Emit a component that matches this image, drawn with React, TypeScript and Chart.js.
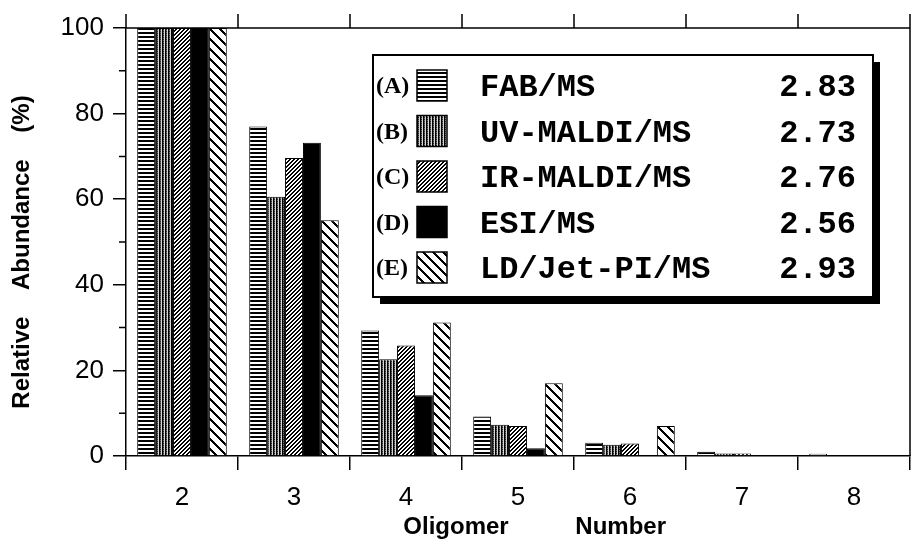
import React, { useEffect, useRef } from "react";
import { Chart, registerables } from "chart.js";

Chart.register(...registerables);

// ---- data ----
const oligomerNumbers = ["2", "3", "4", "5", "6", "7", "8"];
const methodTags = ["(A)", "(B)", "(C)", "(D)", "(E)"];
const methodNames = ["FAB/MS", "UV-MALDI/MS", "IR-MALDI/MS", "ESI/MS", "LD/Jet-PI/MS"];
const averageValues = ["2.83", "2.73", "2.76", "2.56", "2.93"];

const fabMs = [100, 77, 29.3, 9.2, 3.1, 1.0, 0.5];
const uvMaldiMs = [100, 60.6, 22.6, 7.3, 2.6, 0.6, 0];
const irMaldiMs = [100, 69.6, 25.8, 7.0, 2.9, 0.6, 0];
const esiMs = [100, 73.2, 14.2, 1.8, 0, 0, 0];
const ldJetPiMs = [100, 55.1, 31.2, 17.0, 7.0, 0, 0];

const yMajorTicks = [0, 20, 40, 60, 80, 100];
const yMinorTicks = [10, 30, 50, 70, 90];

const seriesValues = [fabMs, uvMaldiMs, irMaldiMs, esiMs, ldJetPiMs];
const patternKinds = ["horiz", "vert", "fwd", "solid", "back"];

const SANS = "'Liberation Sans', Arial, Helvetica, sans-serif";

function makePattern(kind: string): CanvasPattern | string {
  if (kind === "solid") return "#000";
  let w = 4;
  let h = 4;
  if (kind === "vert") { w = 3; h = 4; }
  if (kind === "back") { w = 10; h = 10; }
  const c = document.createElement("canvas");
  c.width = w;
  c.height = h;
  const ctx = c.getContext("2d")!;
  const img = ctx.createImageData(w, h);
  for (let y = 0; y < h; y++) {
    for (let x = 0; x < w; x++) {
      let v = 255;
      if (kind === "horiz") v = y < 2 ? 0 : 255;
      else if (kind === "vert") v = x === 0 ? 0 : x === 1 ? (y % 2 ? 40 : 110) : 215;
      else if (kind === "fwd") v = (x + y) % 4 < 2 ? 0 : 255;
      else if (kind === "back") v = (x - y + 100) % 10 < 3 ? 0 : 255;
      const i = (y * w + x) * 4;
      img.data[i] = v;
      img.data[i + 1] = v;
      img.data[i + 2] = v;
      img.data[i + 3] = 255;
    }
  }
  ctx.putImageData(img, 0, 0);
  return ctx.createPattern(c, "repeat")!;
}

const framePlugin = {
  id: "frameAndLegend",
  afterDraw(chart: any) {
    const ctx = chart.ctx as CanvasRenderingContext2D;
    const { left, right, top, bottom } = chart.chartArea;
    const xs = chart.scales.x;
    const ys = chart.scales.y;
    ctx.save();
    ctx.strokeStyle = "#000";
    ctx.lineWidth = 1.5;
    // frame top and right
    ctx.beginPath();
    ctx.moveTo(left, top);
    ctx.lineTo(right, top);
    ctx.moveTo(right, top);
    ctx.lineTo(right, bottom);
    ctx.stroke();
    // top category boundary ticks (outward)
    ctx.beginPath();
    for (let i = 0; i <= oligomerNumbers.length; i++) {
      const x = xs.getPixelForValue(i - 0.5);
      ctx.moveTo(x, top);
      ctx.lineTo(x, top - 14);
    }
    ctx.stroke();
    // minor y ticks
    ctx.beginPath();
    for (const v of yMinorTicks) {
      const y = ys.getPixelForValue(v);
      ctx.moveTo(left - 7, y);
      ctx.lineTo(left, y);
    }
    ctx.stroke();

    // legend box
    const lx = 373, ly = 55, lw = 500, lh = 242;
    ctx.fillStyle = "#000";
    ctx.fillRect(lx + 7, ly + 7, lw, lh);
    ctx.fillStyle = "#fff";
    ctx.fillRect(lx, ly, lw, lh);
    ctx.lineWidth = 2;
    ctx.strokeRect(lx, ly, lw, lh);

    ctx.textBaseline = "middle";
    for (let i = 0; i < methodNames.length; i++) {
      const cy = 86 + i * 45.5;
      ctx.fillStyle = "#000";
      ctx.textAlign = "left";
      ctx.font = "bold 24px 'Liberation Serif', 'Times New Roman', serif";
      ctx.fillText(methodTags[i], 376, cy + 1);
      ctx.fillStyle = chart.data.datasets[i].backgroundColor;
      ctx.fillRect(417, cy - 16, 30, 31);
      ctx.lineWidth = 1.5;
      ctx.strokeRect(417, cy - 16, 30, 31);
      ctx.fillStyle = "#000";
      ctx.font = "bold 32px 'Liberation Mono', 'Courier New', monospace";
      ctx.fillText(methodNames[i], 480, cy + 2);
      ctx.textAlign = "right";
      ctx.fillText(averageValues[i], 856, cy + 2);
    }
    ctx.restore();
  },
};

export default function App() {
  const ref = useRef<HTMLCanvasElement | null>(null);

  useEffect(() => {
    if (!ref.current) return;
    const datasets = methodNames.map((name, i) => ({
      label: name,
      data: seriesValues[i],
      backgroundColor: makePattern(patternKinds[i]) as any,
      borderColor: "#000",
      borderWidth: 1,
      barPercentage: 1.0,
      categoryPercentage: 0.8,
    }));
    const chart = new Chart(ref.current, {
      type: "bar",
      data: { labels: oligomerNumbers, datasets },
      options: {
        animation: false,
        responsive: false,
        maintainAspectRatio: false,
        events: [],
        layout: { padding: { top: 28, right: 2, left: 0, bottom: 0 } },
        plugins: {
          legend: { display: false },
          tooltip: { enabled: false },
        },
        scales: {
          x: {
            offset: true,
            grid: {
              offset: true,
              drawOnChartArea: false,
              drawTicks: true,
              tickLength: 14,
              color: "#000",
              lineWidth: 1.5,
            },
            border: { display: true, color: "#000", width: 1.5 },
            ticks: {
              color: "#000",
              font: { family: SANS, size: 26 },
              padding: 12,
              maxRotation: 0,
            },
            title: {
              display: true,
              text: "     Oligomer          Number",
              color: "#000",
              font: { family: SANS, size: 24, weight: "bold" },
              padding: { top: 0, bottom: 0 },
            },
            afterFit: (s: any) => {
              s.height = 86;
            },
          },
          y: {
            min: 0,
            max: 100,
            afterBuildTicks: (s: any) => {
              s.ticks = yMajorTicks.map((v) => ({ value: v }));
            },
            ticks: {
              color: "#000",
              font: { family: SANS, size: 26 },
              padding: 9,
            },
            grid: {
              drawOnChartArea: false,
              drawTicks: true,
              tickLength: 13,
              color: "#000",
              lineWidth: 1.5,
            },
            border: { display: true, color: "#000", width: 1.5 },
            title: {
              display: true,
              text: "Relative    Abundance    (%)   ",
              color: "#000",
              font: { family: SANS, size: 24, weight: "bold" },
              padding: { top: 8, bottom: 0 },
            },
            afterFit: (s: any) => {
              s.width = 126;
            },
          },
        },
      } as any,
      plugins: [framePlugin],
    });
    return () => chart.destroy();
  }, []);

  return (
    <div style={{ position: "fixed", left: 0, top: 0, width: 912, height: 542, background: "#fff" }}>
      <canvas ref={ref} width={912} height={542} style={{ display: "block" }} />
    </div>
  );
}
